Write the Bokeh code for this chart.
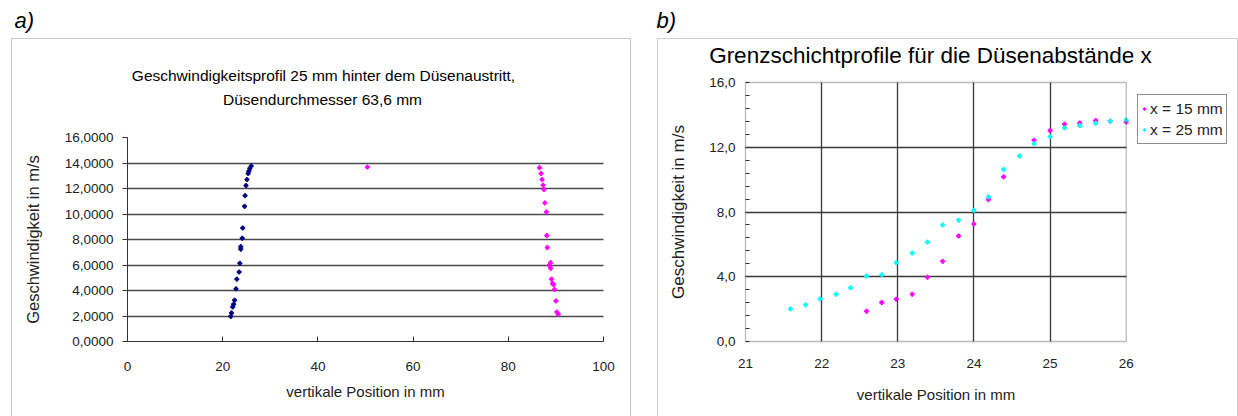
from bokeh.plotting import figure
from bokeh.layouts import row
from bokeh.models import (Range1d, FixedTicker, SingleIntervalTicker, Label, BoxAnnotation,
                          Legend, LegendItem, CustomJSTickFormatter, LinearAxis, Grid)
from bokeh.embed import file_html
from bokeh.resources import INLINE

FONT = "Liberation Sans"

# ---------------- data: panel a) ----------------
a_blue_x = [21.7, 21.85, 22.1, 22.3, 22.5, 22.8, 22.97, 23.45, 23.6, 23.8, 23.8, 24.1, 24.2,
            24.6, 24.7, 24.9, 25.1, 25.35, 25.5, 25.7, 25.98]
a_blue_y = [1.97, 2.24, 2.71, 2.92, 3.24, 4.13, 4.89, 5.45, 6.13, 7.24, 7.44, 8.10, 8.90,
            10.60, 11.44, 12.23, 12.70, 13.18, 13.36, 13.57, 13.76]
a_mag_x = [86.55, 86.9, 87.1, 87.3, 87.5, 87.7, 88.0, 88.1, 88.2, 88.9, 88.6, 88.9, 89.1,
           89.3, 89.5, 89.7, 90.0, 90.2, 90.5, 50.4]
a_mag_y = [13.63, 13.18, 12.70, 12.26, 11.92, 10.87, 10.16, 8.31, 7.37, 6.18, 5.97, 5.74, 4.89,
           4.55, 4.47, 4.08, 3.18, 2.31, 2.13, 13.68]
a_xticks = [0, 20, 40, 60, 80, 100]
a_yticks = [0, 2, 4, 6, 8, 10, 12, 14, 16]

# ---------------- data: panel b) ----------------
b_x25 = [21.59, 21.79, 21.98, 22.19, 22.38, 22.59, 22.79, 22.98, 23.19, 23.39, 23.59, 23.80,
         24.0, 24.19, 24.39, 24.6, 24.79, 25.0, 25.19, 25.39, 25.6, 25.79, 26.0]
b_v25 = [2.01, 2.26, 2.63, 2.92, 3.32, 4.04, 4.12, 4.87, 5.46, 6.14, 7.20, 7.49, 8.11, 8.93,
         10.63, 11.46, 12.22, 12.65, 13.19, 13.34, 13.48, 13.61, 13.69]
b_x15 = [22.59, 22.79, 22.98, 23.19, 23.39, 23.59, 23.80, 24.0, 24.19, 24.39, 24.79, 25.0,
         25.19, 25.39, 25.6, 25.79, 26.0]
b_v15 = [1.87, 2.41, 2.61, 2.92, 3.97, 4.95, 6.52, 7.26, 8.77, 10.17, 12.43, 13.03, 13.42,
         13.50, 13.65, 13.61, 13.56]
b_labels = ["x = 15 mm", "x = 25 mm"]
b_xticks = [21, 22, 23, 24, 25, 26]
b_yticks = [0, 4, 8, 12, 16]

TXT = "#222222"
GRID = "#3a3a3a"
H = 416
WA, WB = 640, 598


def xrange_from(v0, p0, v1, p1, size):
    s = (p1 - p0) / (v1 - v0)
    return Range1d(v0 - p0 / s, v0 + (size - p0) / s)


def yrange_from(v0, top0, v1, top1, size):
    b0, b1 = size - top0, size - top1
    s = (b1 - b0) / (v1 - v0)
    return Range1d(v0 - b0 / s, v0 + (size - b0) / s)


def style_axis(ax, size="13.5px"):
    ax.major_label_text_font = FONT
    ax.major_label_text_font_size = size
    ax.major_label_text_color = TXT
    ax.axis_label_text_font = FONT
    ax.axis_label_text_font_style = "normal"
    ax.axis_label_text_color = TXT
    ax.axis_line_color = "#333333"
    ax.major_tick_line_color = "#333333"
    ax.minor_tick_line_color = "#333333"


def hgrid(p, ticks, xb, color=GRID, width=1.3):
    try:
        g = Grid(dimension=1, ticker=FixedTicker(ticks=ticks), cross_bounds=xb,
                 grid_line_color=color, grid_line_width=width)
        p.add_layout(g, "center")
    except AttributeError:
        p.segment(x0=[xb[0]] * len(ticks), x1=[xb[1]] * len(ticks), y0=ticks, y1=ticks,
                  line_color=color, line_width=width)


def vgrid(p, ticks, yb, color=GRID, width=1.3):
    try:
        g = Grid(dimension=0, ticker=FixedTicker(ticks=ticks), cross_bounds=yb,
                 grid_line_color=color, grid_line_width=width)
        p.add_layout(g, "center")
    except AttributeError:
        p.segment(x0=ticks, x1=ticks, y0=[yb[0]] * len(ticks), y1=[yb[1]] * len(ticks),
                  line_color=color, line_width=width)


def base_fig(width, xr, yr):
    p = figure(width=width, height=H, output_backend="svg", toolbar_location=None, title=None,
               x_range=xr, y_range=yr, x_axis_type=None, y_axis_type=None,
               min_border=0, min_border_left=0, min_border_right=0,
               min_border_top=0, min_border_bottom=0)
    p.outline_line_color = None
    p.background_fill_color = "white"
    p.border_fill_color = "white"
    return p


# ================= panel a =================
pa = base_fig(WA, xrange_from(0, 127, 100, 603, WA), yrange_from(0, 341, 16, 137, H))

hgrid(pa, a_yticks[1:-1], (a_xticks[0], a_xticks[-1]), color="#4a4a4a", width=1.5)

ax_a_x = LinearAxis(fixed_location=a_yticks[0], ticker=FixedTicker(ticks=a_xticks),
                    bounds=(a_xticks[0], a_xticks[-1]))
style_axis(ax_a_x)
ax_a_x.major_tick_in = 5
ax_a_x.major_tick_out = 0
ax_a_x.minor_tick_line_color = None
ax_a_x.axis_label = "vertikale Position in mm"
ax_a_x.axis_label_text_font_size = "15px"
ax_a_x.major_label_standoff = 20
ax_a_x.axis_label_standoff = 9
pa.add_layout(ax_a_x, "below")

ax_a_y = LinearAxis(fixed_location=a_xticks[0], ticker=FixedTicker(ticks=a_yticks),
                    bounds=(a_yticks[0], a_yticks[-1]),
                    formatter=CustomJSTickFormatter(code="return tick.toFixed(4).replace('.', ',');"))
style_axis(ax_a_y)
ax_a_y.major_tick_in = 0
ax_a_y.major_tick_out = 5
ax_a_y.minor_tick_line_color = None
ax_a_y.axis_label = "Geschwindigkeit in m/s"
ax_a_y.axis_label_text_font_size = "16.5px"
ax_a_y.major_label_standoff = 9
ax_a_y.axis_label_standoff = 20
pa.add_layout(ax_a_y, "left")

pa.scatter(a_blue_x, a_blue_y, marker="plus", size=4, color="#000080")
pa.scatter(a_mag_x, a_mag_y, marker="plus", size=4, color="#ff00ff")

pa.add_layout(BoxAnnotation(left=11, right=630, top=H - 38, bottom=-10,
                            left_units="screen", right_units="screen",
                            top_units="screen", bottom_units="screen",
                            fill_color=None, fill_alpha=0, line_color="#444444", line_width=1))
pa.add_layout(Label(x=14, y=H - 20, x_units="screen", y_units="screen", text="a)",
                    text_font=FONT, text_font_size="22px", text_font_style="italic",
                    text_align="left", text_baseline="middle", text_color="black"))
pa.add_layout(Label(x=323, y=H - 75, x_units="screen", y_units="screen",
                    text="Geschwindigkeitsprofil 25 mm hinter dem Düsenaustritt,",
                    text_font=FONT, text_font_size="15.5px", text_align="center",
                    text_baseline="middle", text_color="black"))
pa.add_layout(Label(x=322, y=H - 99, x_units="screen", y_units="screen",
                    text="Düsendurchmesser 63,6 mm",
                    text_font=FONT, text_font_size="15.5px", text_align="center",
                    text_baseline="middle", text_color="black"))

# ================= panel b =================
OX = WA  # page x offset of panel b canvas
pb = base_fig(WB, xrange_from(21, 745 - OX, 26, 1125.7 - OX, WB), yrange_from(0, 341, 16, 82, H))

vgrid(pb, b_xticks[1:-1], (b_yticks[0], b_yticks[-1]))
hgrid(pb, b_yticks[1:-1], (b_xticks[0], b_xticks[-1]))
pb.add_layout(BoxAnnotation(left=b_xticks[0], right=b_xticks[-1], bottom=b_yticks[0], top=b_yticks[-1],
                            fill_color=None, fill_alpha=0, line_color="#222222", line_width=1.3))

ax_b_x = LinearAxis(fixed_location=b_yticks[0], ticker=FixedTicker(ticks=b_xticks),
                    bounds=(b_xticks[0], b_xticks[-1]))
style_axis(ax_b_x)
ax_b_x.axis_line_color = None
ax_b_x.major_tick_line_color = None
ax_b_x.minor_tick_line_color = None
ax_b_x.axis_label = "vertikale Position in mm"
ax_b_x.axis_label_text_font_size = "15px"
ax_b_x.major_label_standoff = 11
ax_b_x.axis_label_standoff = 15
pb.add_layout(ax_b_x, "below")

ax_b_y = LinearAxis(fixed_location=b_xticks[0], ticker=SingleIntervalTicker(interval=4, num_minor_ticks=5),
                    bounds=(b_yticks[0], b_yticks[-1]),
                    formatter=CustomJSTickFormatter(code="return tick.toFixed(1).replace('.', ',');"))
style_axis(ax_b_y)
ax_b_y.axis_line_color = None
ax_b_y.major_tick_in = 0
ax_b_y.major_tick_out = 0
ax_b_y.minor_tick_in = 4
ax_b_y.minor_tick_out = 0
ax_b_y.axis_label = "Geschwindigkeit in m/s"
ax_b_y.axis_label_text_font_size = "17px"
ax_b_y.major_label_standoff = 10
ax_b_y.axis_label_standoff = 18
pb.add_layout(ax_b_y, "left")

r15 = pb.scatter(b_x15, b_v15, marker="plus", size=4, color="#ff00ff")
r25 = pb.scatter(b_x25, b_v25, marker="plus", size=4, color="#00ffff")

legend = Legend(items=[LegendItem(label=b_labels[0], renderers=[r15]),
                       LegendItem(label=b_labels[1], renderers=[r25])],
                location=(1137 - OX, H - 144), margin=0, padding=3, spacing=0,
                label_text_font=FONT, label_text_font_size="15.5px", label_text_color=TXT,
                label_height=21, glyph_width=6, glyph_height=21, label_standoff=3,
                border_line_color="#222222", border_line_width=1.3,
                background_fill_color="white", background_fill_alpha=1)
pb.add_layout(legend, "center")

pb.add_layout(BoxAnnotation(left=657 - OX, right=1237 - OX, top=H - 38, bottom=-10,
                            left_units="screen", right_units="screen",
                            top_units="screen", bottom_units="screen",
                            fill_color=None, fill_alpha=0, line_color="#666666", line_width=1))
pb.add_layout(Label(x=656 - OX, y=H - 20, x_units="screen", y_units="screen", text="b)",
                    text_font=FONT, text_font_size="22px", text_font_style="italic",
                    text_align="left", text_baseline="middle", text_color="black"))
pb.add_layout(Label(x=930 - OX, y=H - 55, x_units="screen", y_units="screen",
                    text="Grenzschichtprofile für die Düsenabstände x",
                    text_font=FONT, text_font_size="22.5px", text_align="center",
                    text_baseline="middle", text_color="black"))

layout = row(pa, pb, spacing=0)
open("out.html", "w").write(file_html(layout, INLINE))
